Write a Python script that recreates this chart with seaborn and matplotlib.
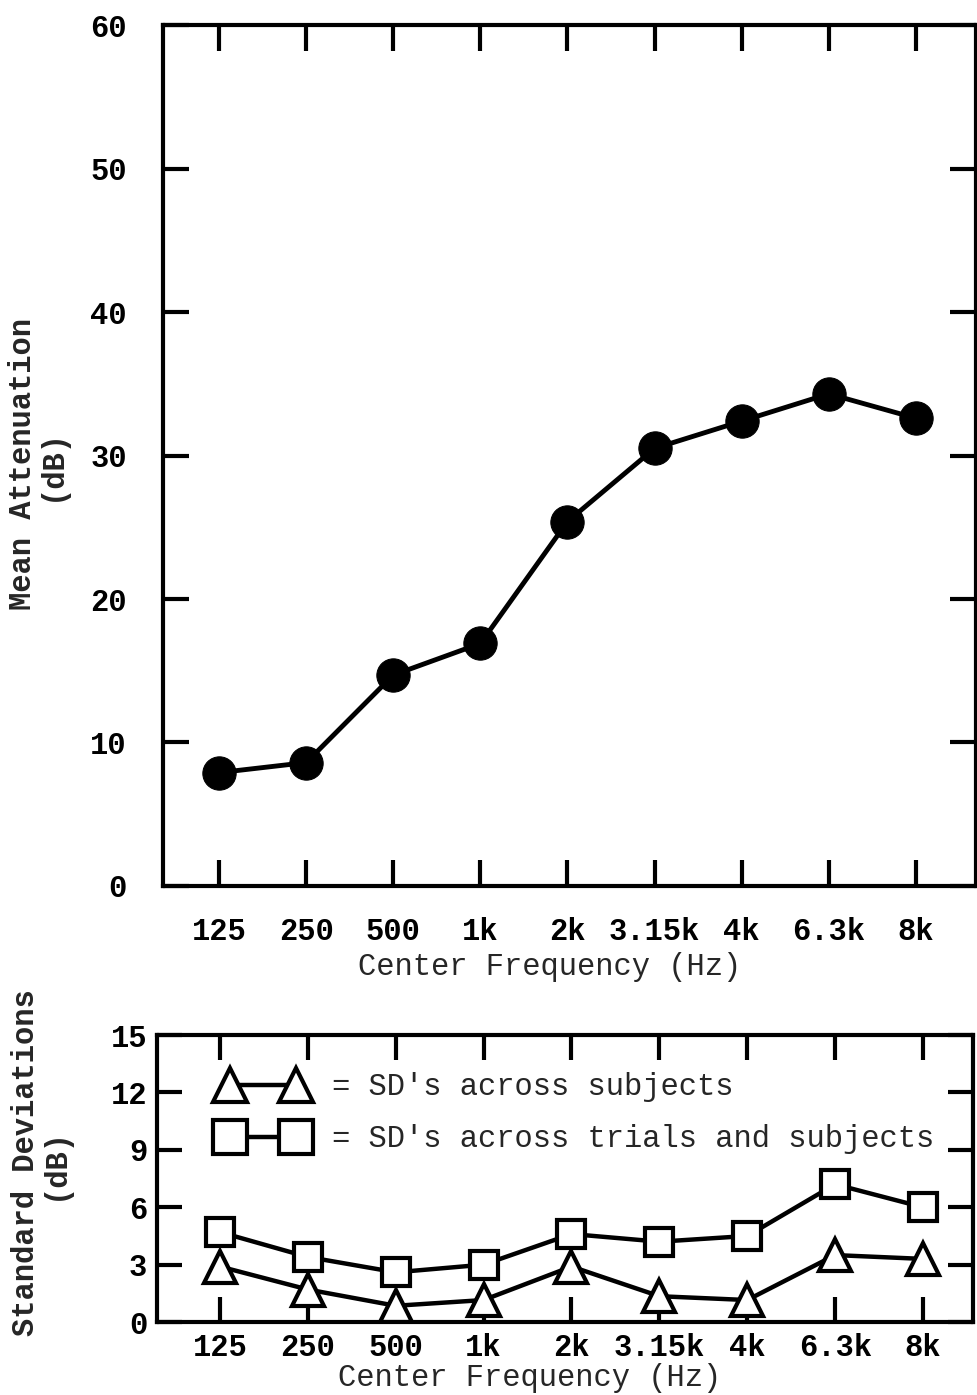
import matplotlib
matplotlib.use("Agg")
import matplotlib.pyplot as plt
import seaborn as sns
import pandas as pd

# Данные
freq_labels = ['125', '250', '500', '1k', '2k', '3.15k', '4k', '6.3k', '8k']
mean_atten = [7.9, 8.6, 14.7, 16.9, 25.4, 30.5, 32.4, 34.3, 32.6]
sd_subjects = [2.9, 1.7, 0.85, 1.15, 2.9, 1.35, 1.15, 3.5, 3.3]
sd_trials = [4.7, 3.4, 2.6, 3.0, 4.6, 4.2, 4.5, 7.2, 6.0]

sns.set_theme(style='ticks')
plt.rcParams['font.family'] = ['Liberation Mono', 'DejaVu Sans']
plt.rcParams['axes.linewidth'] = 3

FS = 22

df = pd.DataFrame({'freq': freq_labels, 'mean': mean_atten,
                   'sd_subj': sd_subjects, 'sd_trial': sd_trials})

fig = plt.figure(figsize=(9.78, 13.95), dpi=100)

# Верхний график: средняя аттенюация
ax1 = fig.add_axes([0.1667, 0.3649, 0.8313, 0.6171])
sns.lineplot(data=df, x='freq', y='mean', sort=False, ax=ax1, color='black',
             linewidth=3.5, marker='o', markersize=24, markeredgecolor='black',
             markerfacecolor='black')
ax1.set_xlim(-0.643, 8.69)
ax1.set_ylim(0, 60)
ax1.set_yticks([0, 10, 20, 30, 40, 50, 60])
ax1.tick_params(axis='both', direction='in', length=19, width=3,
                top=True, right=True, colors='black')
ax1.tick_params(axis='x', pad=22, labelsize=FS)
ax1.tick_params(axis='y', pad=26, labelsize=FS)
for lab in ax1.get_yticklabels() + ax1.get_xticklabels():
    lab.set_fontweight('bold')
ax1.set_xlabel('Center Frequency (Hz)', fontsize=FS)
ax1.xaxis.set_label_coords(0.476, -0.094)
ax1.xaxis.label.set_va('center')
ax1.set_ylabel('Mean Attenuation\n(dB)', fontsize=FS, fontweight='bold',
               va='center', linespacing=0.95)
ax1.yaxis.set_label_coords(-0.155, 0.49)

# Нижний график: стандартные отклонения
ax2 = fig.add_axes([0.1605, 0.0523, 0.8345, 0.2057])
sns.lineplot(data=df, x='freq', y='sd_subj', sort=False, ax=ax2, color='black',
             linewidth=3.2, marker='^', markersize=23, markeredgewidth=3,
             markeredgecolor='black', markerfacecolor='white',
             label="= SD's across subjects")
sns.lineplot(data=df, x='freq', y='sd_trial', sort=False, ax=ax2, color='black',
             linewidth=3.2, marker='s', markersize=20, markeredgewidth=3,
             markeredgecolor='black', markerfacecolor='white',
             label="= SD's across trials and subjects")
ax2.set_xlim(-0.717, 8.57)
ax2.set_ylim(0, 15)
ax2.set_yticks([0, 3, 6, 9, 12, 15])
ax2.tick_params(axis='both', direction='in', length=18, width=3,
                top=True, right=True, colors='black')
ax2.tick_params(axis='x', pad=8, labelsize=FS)
ax2.tick_params(axis='y', pad=7, labelsize=FS)
for lab in ax2.get_yticklabels() + ax2.get_xticklabels():
    lab.set_fontweight('bold')
ax2.set_xlabel('Center Frequency (Hz)', fontsize=FS)
ax2.xaxis.set_label_coords(0.457, -0.195)
ax2.xaxis.label.set_va('center')
ax2.set_ylabel('Standard Deviations\n(dB)', fontsize=FS, fontweight='bold',
               va='center', linespacing=0.95)
ax2.yaxis.set_label_coords(-0.143, 0.554)
leg = ax2.legend(loc='upper left', bbox_to_anchor=(0.078, 0.87), frameon=False,
                 numpoints=2, handlelength=2.76, handletextpad=0.9, borderpad=0,
                 borderaxespad=0, labelspacing=0.72, fontsize=FS)
for h in leg.legend_handles:
    h.set_markersize(24)

for ax in (ax1, ax2):
    for s in ax.spines.values():
        s.set_color('black')
        s.set_linewidth(3)

fig.savefig('out.png', dpi=100, facecolor='white')
